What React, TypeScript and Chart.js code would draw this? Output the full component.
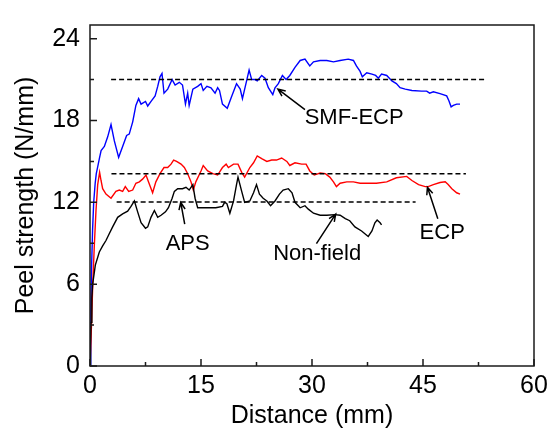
import React, { useEffect, useRef } from "react";
import { Chart, registerables } from "chart.js";

Chart.register(...registerables);

const FONT = '"Liberation Sans", Arial, Helvetica, sans-serif';

// Axis ticks
const xTicks = [0, 15, 30, 45, 60];
const yTicks = [0, 6, 12, 18, 24];
const xMinorTicks = [7.5, 22.5, 37.5, 52.5];
const yMinorTicks = [3, 9, 15, 21];

// SMF-ECP (blue)
const smfX = [0, 0.1, 0.2, 0.35, 0.5, 0.7, 0.85, 1.04, 1.3, 1.5, 1.94, 2.39, 2.84, 3.29, 3.87, 4.41, 4.95, 5.3, 5.77, 6.2, 6.57, 6.9, 7.5, 7.8, 8.25, 8.8, 9.15, 9.46, 9.73, 10.0, 10.5, 11.1, 11.5, 12.07, 12.5, 12.9, 13.2, 13.4, 13.9, 14.55, 15.0, 15.3, 15.8, 16.35, 16.9, 17.25, 17.5, 17.9, 18.55, 19.1, 19.8, 20.3, 20.6, 21.2, 21.5, 21.85, 22.3, 22.6, 23.2, 23.65, 24.1, 24.7, 25.0, 25.45, 26.0, 26.5, 27.0, 27.7, 28.4, 29.05, 29.7, 30.2, 31.1, 32.0, 32.9, 33.8, 34.9, 35.6, 36.0, 36.5, 36.8, 37.4, 38.1, 38.6, 38.96, 39.4, 40.1, 40.8, 41.4, 41.9, 42.6, 43.5, 44.8, 45.5, 45.9, 46.4, 47.3, 48.2, 48.5, 48.8, 49.1, 49.55, 50.0];
const smfY = [0, 4, 7, 10, 12, 13.4, 14.1, 14.6, 15.3, 15.8, 16.1, 16.8, 17.7, 16.5, 15.3, 16.1, 16.9, 17.0, 17.9, 19.1, 19.6, 19.2, 19.4, 19.06, 19.4, 19.8, 20.5, 21.2, 21.45, 20.0, 20.3, 21.0, 20.6, 20.8, 20.6, 19.2, 20.0, 19.1, 20.3, 20.5, 20.7, 20.2, 20.5, 20.4, 20.0, 20.4, 20.2, 19.2, 18.9, 19.7, 20.7, 20.3, 19.6, 21.0, 21.7, 21.0, 21.0, 20.9, 21.3, 21.1, 20.4, 19.9, 20.4, 20.7, 21.3, 21.0, 21.3, 21.9, 22.4, 22.5, 22.0, 22.3, 22.4, 22.4, 22.3, 22.4, 22.5, 22.4, 22.0, 21.6, 21.2, 21.5, 21.4, 21.3, 21.1, 21.4, 21.3, 20.9, 20.7, 20.4, 20.3, 20.2, 20.15, 20.15, 20.0, 20.1, 19.97, 19.8, 19.45, 19.0, 19.1, 19.2, 19.2];

// ECP (red)
const ecpX = [0, 0.2, 0.36, 0.58, 0.81, 1.04, 1.3, 1.49, 1.71, 2.16, 2.84, 3.5, 3.96, 4.41, 4.77, 5.23, 5.77, 6.2, 6.67, 7.1, 7.57, 7.9, 8.46, 8.9, 9.46, 10.0, 10.5, 10.95, 11.3, 11.7, 12.3, 12.75, 13.2, 13.65, 13.96, 14.3, 15.0, 15.3, 15.9, 16.6, 17.25, 17.9, 18.4, 18.7, 19.4, 20.0, 20.5, 20.9, 21.6, 22.1, 22.6, 23.2, 23.9, 24.55, 25.2, 25.9, 26.6, 27.0, 27.7, 28.6, 29.2, 29.7, 30.3, 31.1, 31.8, 32.4, 32.9, 33.3, 33.8, 34.7, 35.6, 36.5, 37.4, 38.7, 40.1, 41.4, 42.8, 43.5, 44.4, 45.3, 45.7, 46.4, 47.3, 48.0, 48.4, 48.9, 49.55, 50.0];
const ecpY = [0, 3, 5.8, 8.8, 11.4, 13.3, 14.2, 13.6, 13.0, 12.6, 12.3, 12.8, 12.9, 12.8, 13.15, 12.8, 12.9, 13.4, 13.5, 13.7, 14.0, 13.5, 12.7, 13.5, 14.1, 14.55, 14.55, 14.8, 15.1, 15.0, 14.8, 14.55, 14.1, 13.5, 12.9, 13.5, 14.3, 14.7, 14.3, 14.1, 14.0, 14.55, 14.8, 14.55, 14.8, 14.8, 14.2, 13.85, 14.55, 14.9, 15.4, 15.2, 15.0, 15.1, 15.1, 15.25, 15.0, 14.7, 14.9, 14.8, 14.8, 14.3, 14.0, 14.15, 14.1, 13.85, 13.5, 13.15, 13.4, 13.5, 13.5, 13.4, 13.4, 13.4, 13.5, 13.8, 13.9, 13.6, 13.3, 13.15, 13.15, 13.3, 13.45, 13.5, 13.3, 13.0, 12.7, 12.6];

// Non-field (black)
const nfX = [0, 0.07, 0.14, 0.25, 0.36, 0.72, 1.26, 1.71, 2.16, 2.6, 3.06, 3.74, 4.41, 5.09, 5.54, 6.0, 6.44, 6.9, 7.5, 7.8, 8.24, 8.7, 9.15, 9.6, 10.2, 10.6, 11.1, 11.4, 11.85, 12.5, 12.97, 13.4, 13.9, 14.2, 14.55, 15.7, 17.0, 17.9, 18.2, 18.5, 18.9, 19.4, 19.8, 20.0, 20.5, 20.9, 21.6, 22.1, 22.5, 22.9, 23.4, 23.9, 24.4, 25.0, 25.6, 26.1, 26.8, 27.3, 27.7, 28.4, 29.05, 29.5, 30.2, 31.1, 32.0, 33.1, 33.8, 34.5, 35.1, 35.8, 36.7, 37.6, 38.1, 38.5, 38.8, 39.2, 39.4];
const nfY = [0, 1.5, 3.2, 5.0, 6.0, 7.4, 8.36, 8.8, 9.2, 9.7, 10.2, 10.9, 11.15, 11.35, 11.7, 12.1, 11.3, 10.5, 10.1, 10.2, 10.9, 11.4, 10.9, 11.05, 11.3, 11.6, 12.3, 12.8, 13.0, 13.0, 13.1, 12.9, 13.3, 12.3, 11.6, 11.6, 11.6, 11.7, 12.0, 11.9, 11.2, 12.1, 13.3, 13.85, 12.8, 12.0, 12.1, 12.7, 13.3, 12.6, 12.3, 12.1, 11.75, 12.1, 12.6, 12.9, 13.0, 12.7, 12.0, 11.6, 11.75, 11.5, 11.2, 11.05, 11.05, 11.1, 11.05, 10.8, 10.65, 10.2, 9.9, 9.5, 9.9, 10.5, 10.7, 10.5, 10.35];

// Dashed average lines
const avgSmfX = [2.85, 53.4];
const avgSmfY = [21.0, 21.0];
const avgEcpX = [2.9, 50.8];
const avgEcpY = [14.1, 14.1];
const avgNfX = [3.6, 44.0];
const avgNfY = [12.03, 12.03];

// Annotations (data coordinates)
const noteTexts = ["SMF-ECP", "ECP", "APS", "Non-field"];
const noteX = [35.7, 47.6, 13.2, 30.7];
const noteY = [18.18, 9.74, 8.93, 8.2];
const arrowFromX = [29.05, 47.0, 12.8, 30.6];
const arrowFromY = [18.8, 10.8, 10.4, 8.97];
const arrowToX = [25.4, 45.6, 12.26, 33.2];
const arrowToY = [20.3, 13.1, 12.0, 11.14];

const pts = (xs: number[], ys: number[]) => xs.map((x, i) => ({ x, y: ys[i] }));

const framePlugin = {
  id: "frameAndNotes",
  afterDatasetsDraw(chart: any) {
    const { ctx, chartArea } = chart;
    const xs = chart.scales.x;
    const ys = chart.scales.y;
    const { left, right, top, bottom } = chartArea;
    ctx.save();
    ctx.strokeStyle = "#1a1a1a";
    ctx.lineWidth = 1.5;
    ctx.strokeRect(left, top, right - left, bottom - top);
    ctx.beginPath();
    xTicks.forEach((v) => {
      const p = xs.getPixelForValue(v);
      ctx.moveTo(p, bottom);
      ctx.lineTo(p, bottom - 7);
    });
    xMinorTicks.forEach((v) => {
      const p = xs.getPixelForValue(v);
      ctx.moveTo(p, bottom);
      ctx.lineTo(p, bottom - 4);
    });
    yTicks.forEach((v) => {
      const p = ys.getPixelForValue(v);
      ctx.moveTo(left, p);
      ctx.lineTo(left + 7, p);
    });
    yMinorTicks.forEach((v) => {
      const p = ys.getPixelForValue(v);
      ctx.moveTo(left, p);
      ctx.lineTo(left + 4, p);
    });
    ctx.stroke();

    // arrows
    ctx.strokeStyle = "#000";
    ctx.lineWidth = 1.5;
    for (let i = 0; i < noteTexts.length; i++) {
      const x1 = xs.getPixelForValue(arrowFromX[i]);
      const y1 = ys.getPixelForValue(arrowFromY[i]);
      const x2 = xs.getPixelForValue(arrowToX[i]);
      const y2 = ys.getPixelForValue(arrowToY[i]);
      const ang = Math.atan2(y2 - y1, x2 - x1);
      const hl = 8;
      const ha = 0.4;
      ctx.beginPath();
      ctx.moveTo(x1, y1);
      ctx.lineTo(x2, y2);
      ctx.moveTo(x2 - hl * Math.cos(ang - ha), y2 - hl * Math.sin(ang - ha));
      ctx.lineTo(x2, y2);
      ctx.lineTo(x2 - hl * Math.cos(ang + ha), y2 - hl * Math.sin(ang + ha));
      ctx.stroke();
    }
    ctx.fillStyle = "#000";
    ctx.font = `22px ${FONT}`;
    ctx.textAlign = "center";
    ctx.textBaseline = "middle";
    for (let i = 0; i < noteTexts.length; i++) {
      ctx.fillText(noteTexts[i], xs.getPixelForValue(noteX[i]), ys.getPixelForValue(noteY[i]));
    }
    ctx.restore();
  },
};

export default function App() {
  const ref = useRef<HTMLCanvasElement | null>(null);
  useEffect(() => {
    if (!ref.current) return;
    const dashed = (xs: number[], ys: number[]) => ({
      data: pts(xs, ys),
      borderColor: "#000",
      borderWidth: 1.5,
      borderDash: [5, 3],
      pointRadius: 0,
      fill: false,
    });
    const chart = new Chart(ref.current, {
      type: "line",
      data: {
        datasets: [
          dashed(avgSmfX, avgSmfY),
          dashed(avgEcpX, avgEcpY),
          dashed(avgNfX, avgNfY),
          { data: pts(nfX, nfY), borderColor: "#000000", borderWidth: 1.4, pointRadius: 0, fill: false },
          { data: pts(ecpX, ecpY), borderColor: "#ff0000", borderWidth: 1.4, pointRadius: 0, fill: false },
          { data: pts(smfX, smfY), borderColor: "#0000ff", borderWidth: 1.4, pointRadius: 0, fill: false },
        ],
      },
      options: {
        responsive: false,
        animation: false,
        layout: { padding: { top: 9.5, right: 21, left: 0, bottom: 0 } },
        plugins: { legend: { display: false }, tooltip: { enabled: false } },
        elements: { line: { tension: 0 }, point: { radius: 0 } },
        scales: {
          x: {
            type: "linear",
            min: 0,
            max: 60,
            grid: { display: false, drawTicks: false },
            border: { display: false },
            afterBuildTicks: (s: any) => {
              s.ticks = xTicks.map((v) => ({ value: v }));
            },
            ticks: {
              autoSkip: false,
              maxRotation: 0,
              padding: 5,
              color: "#000",
              font: { size: 25, family: FONT },
            },
            title: {
              display: true,
              text: "Distance (mm)",
              color: "#000",
              font: { size: 25, family: FONT },
              padding: { top: 0, bottom: 0 },
            },
            afterFit: (s: any) => {
              s.height = 65;
            },
          },
          y: {
            type: "linear",
            min: 0,
            max: 25,
            grid: { display: false, drawTicks: false },
            border: { display: false },
            afterBuildTicks: (s: any) => {
              s.ticks = yTicks.map((v) => ({ value: v }));
            },
            ticks: {
              autoSkip: false,
              padding: 10,
              color: "#000",
              font: { size: 25, family: FONT },
            },
            title: {
              display: true,
              text: "Peel strength (N/mm)",
              color: "#000",
              font: { size: 25, family: FONT },
              padding: { top: 11, bottom: 0 },
            },
            afterFit: (s: any) => {
              s.width = 90;
            },
          },
        },
      },
      plugins: [framePlugin],
    } as any);
    return () => chart.destroy();
  }, []);
  return (
    <div style={{ position: "absolute", left: 0, top: 0, width: 555, height: 431, background: "#fff" }}>
      <canvas ref={ref} width={555} height={431} style={{ display: "block" }} />
    </div>
  );
}
